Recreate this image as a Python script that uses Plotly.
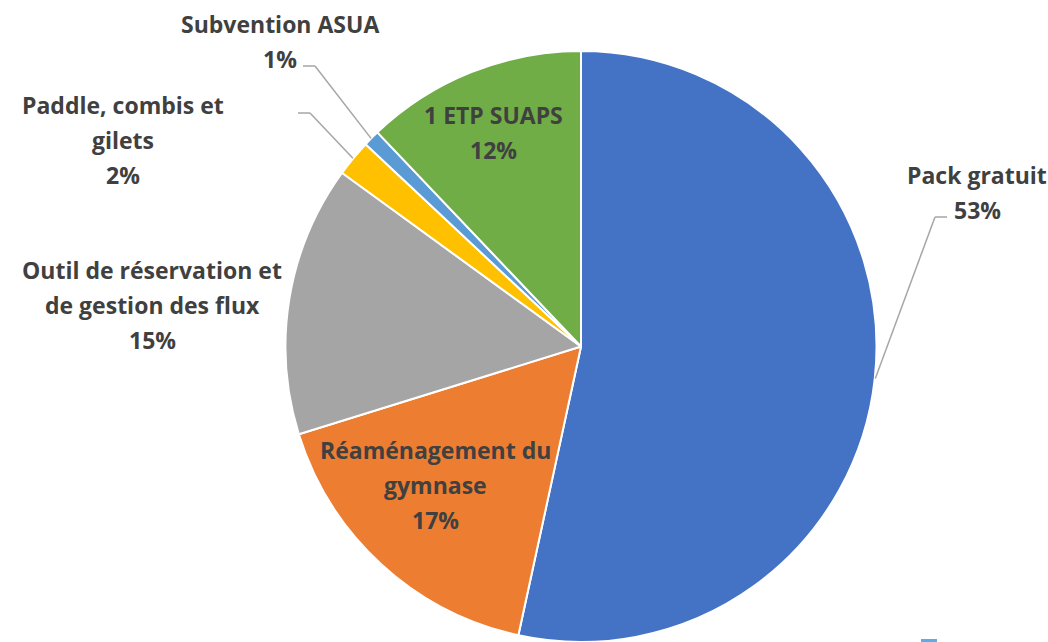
import math
import plotly.graph_objects as go

# slice data, clockwise from 12 o'clock
labels = [
    "Pack gratuit",
    "Réaménagement du gymnase",
    "Outil de réservation et de gestion des flux",
    "Paddle, combis et gilets",
    "Subvention ASUA",
    "1 ETP SUAPS",
]
values = [53.4, 16.8, 14.8, 2.0, 0.9, 12.1]
colours = ["#4472C4", "#ED7D31", "#A5A5A5", "#FFC000", "#5B9BD5", "#70AD47"]

# label text lines (the percentage is added below)
label_lines = [
    ["Pack gratuit"],
    ["Réaménagement du", "gymnase"],
    ["Outil de réservation et", "de gestion des flux"],
    ["Paddle, combis et", "gilets"],
    ["Subvention ASUA"],
    ["1 ETP SUAPS"],
]

W, H = 1048, 642
TEXT_COLOUR = "#404040"
LEADER_COLOUR = "#A6A6A6"
FONT = "Open Sans, Liberation Sans, sans-serif"
FONT_SIZE = 23
LINE_STEP = 35

# pie geometry in pixels
CX, CY, R = 581, 347, 296

# label anchor (centre of first line) in pixels, and leader elbows
label_pos = [(977, 175), (435, 450), (152, 270), (123, 105), (280, 24), (493, 115)]
leaders = {0: [(935, 217), (947, 217)], 3: [(310, 113), (298, 113)], 4: [(315, 66), (303, 66)]}


def px(x, y):
    return x / W, 1 - y / H


fig = go.Figure()
dx0, dy1 = px(CX - R, CY - R)
dx1, _ = px(CX + R, CY + R)
fig.add_trace(go.Pie(
    labels=labels,
    values=values,
    marker=dict(colors=colours, line=dict(color="white", width=2)),
    sort=False,
    direction="clockwise",
    rotation=0,
    textinfo="none",
    hoverinfo="label+percent",
    showlegend=False,
    domain=dict(x=[dx0, dx1], y=[0, dy1]),
))

total = sum(values)
cum = 0
annotations = []
shapes = []
for i, v in enumerate(values):
    pct = round(100 * v / total)
    lines = label_lines[i] + [f"{pct}%"]
    lx, ly = label_pos[i]
    for k, line in enumerate(lines):
        ax, ay = px(lx, ly + k * LINE_STEP)
        annotations.append(dict(
            x=ax, y=ay, xref="paper", yref="paper", text=f"<b>{line}</b>",
            showarrow=False, xanchor="center", yanchor="middle",
            font=dict(family=FONT, size=FONT_SIZE, color=TEXT_COLOUR),
        ))
    mid = (cum + v / 2) / total * 2 * math.pi
    cum += v
    if i in leaders:
        pts = [(CX + R * math.sin(mid), CY - R * math.cos(mid))] + leaders[i]
        for (x0, y0), (x1, y1) in zip(pts[:-1], pts[1:]):
            a0, b0 = px(x0, y0)
            a1, b1 = px(x1, y1)
            shapes.append(dict(type="line", xref="paper", yref="paper",
                               x0=a0, y0=b0, x1=a1, y1=b1,
                               line=dict(color=LEADER_COLOUR, width=1.5)))

# cut-off legend marker at bottom right
x0, y0 = px(921, 639)
x1, y1 = px(937, 646)
shapes.append(dict(type="rect", xref="paper", yref="paper", x0=x0, y0=y0, x1=x1, y1=y1,
                   fillcolor="#5DADE2", line=dict(width=0)))

fig.update_layout(
    width=W,
    height=H,
    margin=dict(l=0, r=0, t=0, b=0),
    paper_bgcolor="white",
    annotations=annotations,
    shapes=shapes,
)

# drop the page's default body margin so the figure sits at the window origin
fig.write_html(
    "out.html",
    config={"displayModeBar": False},
    post_script="document.body.style.margin='0';document.body.style.overflow='hidden';",
)
